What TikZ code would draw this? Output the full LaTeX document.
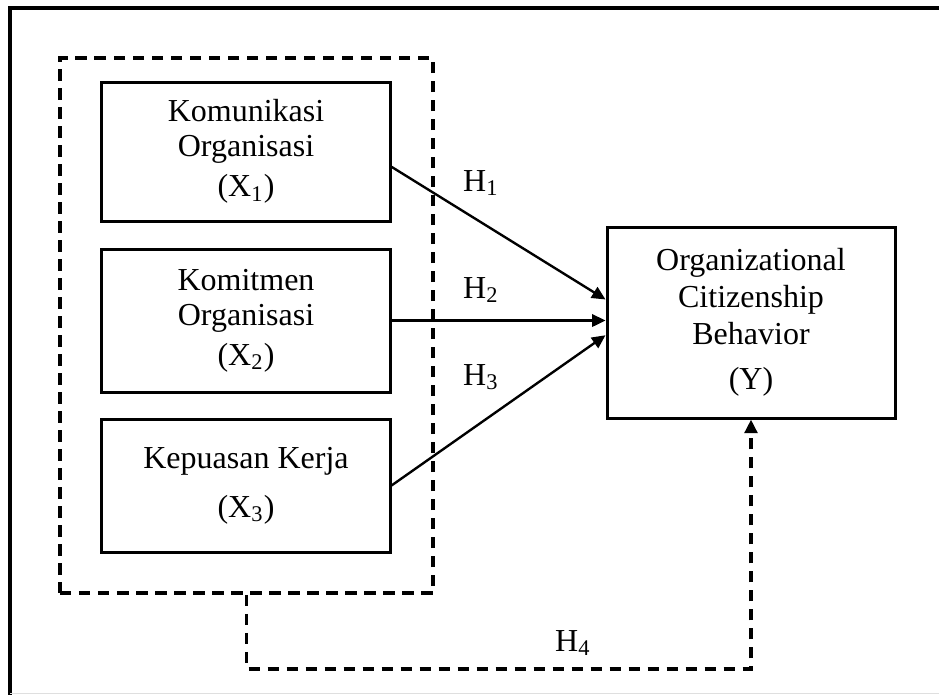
\documentclass[tikz,border=0pt]{standalone}
\usepackage{fontspec}
\setmainfont{Liberation Serif}
\usetikzlibrary{arrows.meta}
\begin{document}
\begin{tikzpicture}[x=0.4pt,y=-0.4pt,
	varbox/.style={draw,line width=1.2pt,align=center,inner sep=0pt,minimum width=115.2pt,font=\fontsize{12.8}{14}\selectfont},
	hyp/.style={line width=0.95pt,-{Triangle[length=5.4pt,width=5pt]}},
	dashline/.style={line width=1.4pt,dash pattern=on 4.6pt off 3pt},
	hlabel/.style={inner sep=0pt,font=\fontsize{12.8}{14}\selectfont}]
	\useasboundingbox (0,0) rectangle (939,695);
	%%%%%%%%%%%%%%%%%%%
	%      frame      %
	%%%%%%%%%%%%%%%%%%%
		\draw[line width=1.4pt] (939,8) -- (10,8) -- (10,695);
		\draw[gray!25,line width=0.6pt] (10,693.5) -- (939,693.5);
	%%%%%%%%%%%%%%%%%%%
	%    variables    %
	%%%%%%%%%%%%%%%%%%%
		\def\colX{246}
		% dashed group
			\node[draw,dashline,minimum width=149.2pt,minimum height=214pt] (grp) at (246.5,325.5) {};
		% independent
			\node[varbox,minimum height=55.6pt] (kom) at (\colX,151.5) {Komunikasi\\Organisasi\\[2pt](X\textsubscript{1})};
			\node[varbox,minimum height=57.2pt] (kmt) at (\colX,320.5) {Komitmen\\Organisasi\\[2pt](X\textsubscript{2})};
			\node[varbox,minimum height=53.2pt] (kep) at (\colX,485.5) {Kepuasan Kerja\\[5.6pt](X\textsubscript{3})};
		% dependent
			\node[varbox,minimum height=76.4pt,font=\fontsize{12.8}{14.7}\selectfont] (ocb) at (751,322.5) {Organizational\\Citizenship\\Behavior\\[3.3pt](Y)};
	%%%%%%%%%%%%%%%%%%%
	%   hypotheses    %
	%%%%%%%%%%%%%%%%%%%
		\draw[hyp] (kom.-6.5) -- (ocb.171);
		\draw[hyp] (kmt.east) -- (kmt.east -| ocb.west);
		\draw[hyp] (kep.east) -- (ocb.185.75);
		\draw[dashline,-{Triangle[length=5.4pt,width=5pt]}] (grp.south) -- ++(0,74) -| (ocb.south);
		% labels
		\foreach \y/\n in {183/1,290/2,377/3}
			\node[hlabel] (h\n) at (481,\y) {H\textsubscript{\n}};
		\node[hlabel] (h4) at (573,643) {H\textsubscript{4}};
\end{tikzpicture}
\end{document}
